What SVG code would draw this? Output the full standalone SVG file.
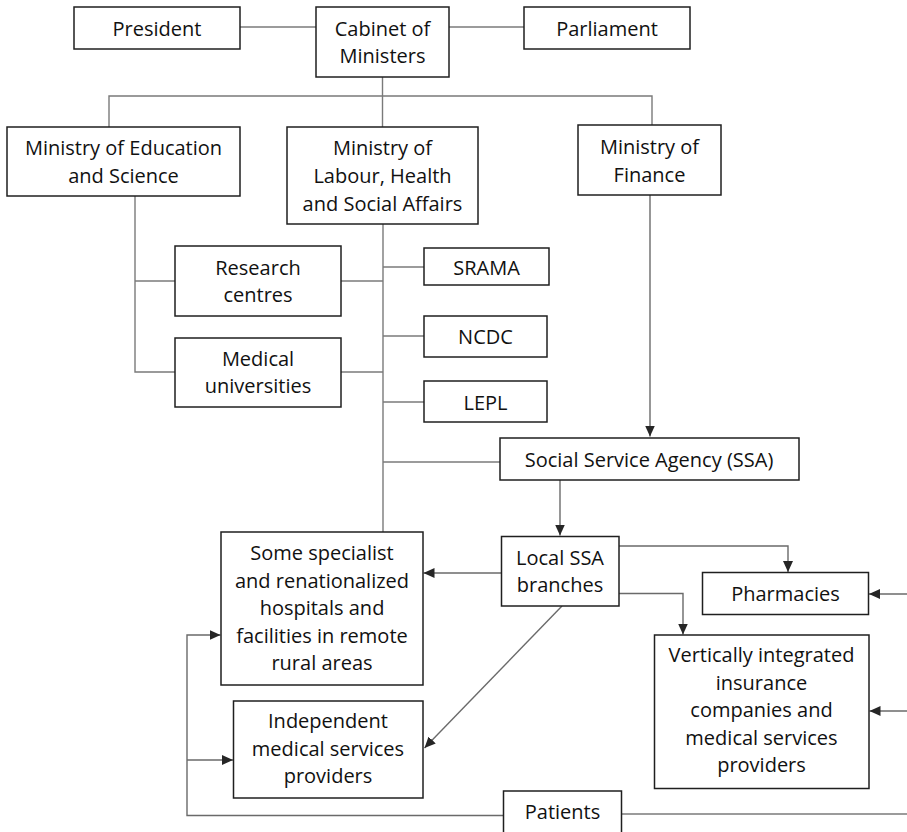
<svg xmlns="http://www.w3.org/2000/svg" width="907" height="832" viewBox="0 0 907 832">
<style>
  .box { fill: #ffffff; stroke: #1f1f1f; stroke-width: 1.5; }
  .t { font-family: "Open Sans", "Liberation Sans", sans-serif; font-size: 20px; fill: #111111; text-anchor: middle; }
  .ln { fill: none; stroke: #7a7a7a; stroke-width: 1.4; }
  .ar { fill: none; stroke: #6a6a6a; stroke-width: 1.4; marker-end: url(#arr); }
</style>
<defs>
  <marker id="arr" markerWidth="12" markerHeight="11" refX="11" refY="5" orient="auto" markerUnits="userSpaceOnUse">
    <path d="M0,0 L11,5 L0,10 z" fill="#262626"/>
  </marker>
</defs>
<rect width="907" height="832" fill="#ffffff"/>

<g id="connectors">
  <path class="ln" d="M240,27 H316"/>
  <path class="ln" d="M449,27 H524"/>
  <path class="ln" d="M382.5,77 V127"/>
  <path class="ln" d="M109,127 V96 H652 V125"/>
  <path class="ln" d="M135,196 V372 H175"/>
  <path class="ln" d="M135,281 H175"/>
  <path class="ln" d="M383,224 V532"/>
  <path class="ln" d="M341,281 H383"/>
  <path class="ln" d="M341,372 H383"/>
  <path class="ln" d="M383,267 H424"/>
  <path class="ln" d="M383,336 H424"/>
  <path class="ln" d="M383,402 H424"/>
  <path class="ln" d="M383,462 H500"/>
  <path class="ar" d="M650,195 V436.5"/>
  <path class="ar" d="M560,480 V535.5"/>
  <path class="ar" d="M501.5,573 H423.5"/>
  <path class="ar" d="M619,546 H788 V572"/>
  <path class="ar" d="M619,593.5 H683 V634.5"/>
  <path class="ar" d="M562,606 L424.5,748"/>
  <path class="ar" d="M907,594 H869"/>
  <path class="ar" d="M907,711 H869.5"/>
  <path class="ln" d="M621.5,814 H907"/>
  <path class="ar" d="M503,815.5 H187 V635 H220.5"/>
  <path class="ar" d="M187,760 H233"/>
</g>

<g id="president">
  <rect class="box" x="74" y="7" width="166" height="42"/>
  <text class="t" x="157" y="35.5">President</text>
</g>
<g id="cabinet">
  <rect class="box" x="316" y="7" width="133" height="70"/>
  <text class="t" x="382.5" y="35.5">Cabinet of</text>
  <text class="t" x="382.5" y="63">Ministers</text>
</g>
<g id="parliament">
  <rect class="box" x="524" y="7" width="166" height="42"/>
  <text class="t" x="607" y="35.5">Parliament</text>
</g>
<g id="ministry-education">
  <rect class="box" x="7" y="127" width="233" height="69"/>
  <text class="t" x="123.5" y="155">Ministry of Education</text>
  <text class="t" x="123.5" y="182.5">and Science</text>
</g>
<g id="ministry-labour">
  <rect class="box" x="287" y="127" width="191" height="97"/>
  <text class="t" x="382.5" y="155">Ministry of</text>
  <text class="t" x="382.5" y="182.5">Labour, Health</text>
  <text class="t" x="382.5" y="210.5">and Social Affairs</text>
</g>
<g id="ministry-finance">
  <rect class="box" x="578" y="125" width="143" height="70"/>
  <text class="t" x="649.5" y="154">Ministry of</text>
  <text class="t" x="649.5" y="181.5">Finance</text>
</g>
<g id="research-centres">
  <rect class="box" x="175" y="246" width="166" height="70"/>
  <text class="t" x="258" y="275">Research</text>
  <text class="t" x="258" y="301.5">centres</text>
</g>
<g id="medical-universities">
  <rect class="box" x="175" y="338" width="166" height="69"/>
  <text class="t" x="258" y="366">Medical</text>
  <text class="t" x="258" y="393">universities</text>
</g>
<g id="srama">
  <rect class="box" x="424" y="248" width="125" height="37"/>
  <text class="t" x="486.5" y="275">SRAMA</text>
</g>
<g id="ncdc">
  <rect class="box" x="424" y="316" width="123" height="41"/>
  <text class="t" x="485.5" y="344">NCDC</text>
</g>
<g id="lepl">
  <rect class="box" x="424" y="381" width="123" height="41"/>
  <text class="t" x="485.5" y="410">LEPL</text>
</g>
<g id="ssa">
  <rect class="box" x="500" y="438" width="299" height="42"/>
  <text class="t" x="649" y="466.5">Social Service Agency (SSA)</text>
</g>
<g id="local-ssa">
  <rect class="box" x="501.5" y="536.5" width="117.5" height="69.5"/>
  <text class="t" x="560" y="565">Local SSA</text>
  <text class="t" x="560" y="592">branches</text>
</g>
<g id="pharmacies">
  <rect class="box" x="702.5" y="572.5" width="166" height="42"/>
  <text class="t" x="785.5" y="601">Pharmacies</text>
</g>
<g id="specialist-hospitals">
  <rect class="box" x="221" y="532" width="202" height="153"/>
  <text class="t" x="322" y="560">Some specialist</text>
  <text class="t" x="322" y="587.5">and renationalized</text>
  <text class="t" x="322" y="615">hospitals and</text>
  <text class="t" x="322" y="642.5">facilities in remote</text>
  <text class="t" x="322" y="670">rural areas</text>
</g>
<g id="independent-providers">
  <rect class="box" x="233.5" y="701" width="189.5" height="97"/>
  <text class="t" x="328" y="728">Independent</text>
  <text class="t" x="328" y="755.5">medical services</text>
  <text class="t" x="328" y="783">providers</text>
</g>
<g id="vertically-integrated">
  <rect class="box" x="654.5" y="635" width="214.5" height="153.5"/>
  <text class="t" x="761.5" y="662">Vertically integrated</text>
  <text class="t" x="761.5" y="689.5">insurance</text>
  <text class="t" x="761.5" y="717">companies and</text>
  <text class="t" x="761.5" y="744.5">medical services</text>
  <text class="t" x="761.5" y="772">providers</text>
</g>
<g id="patients">
  <rect class="box" x="503.5" y="791" width="118" height="50"/>
  <text class="t" x="562.5" y="819">Patients</text>
</g>
</svg>
